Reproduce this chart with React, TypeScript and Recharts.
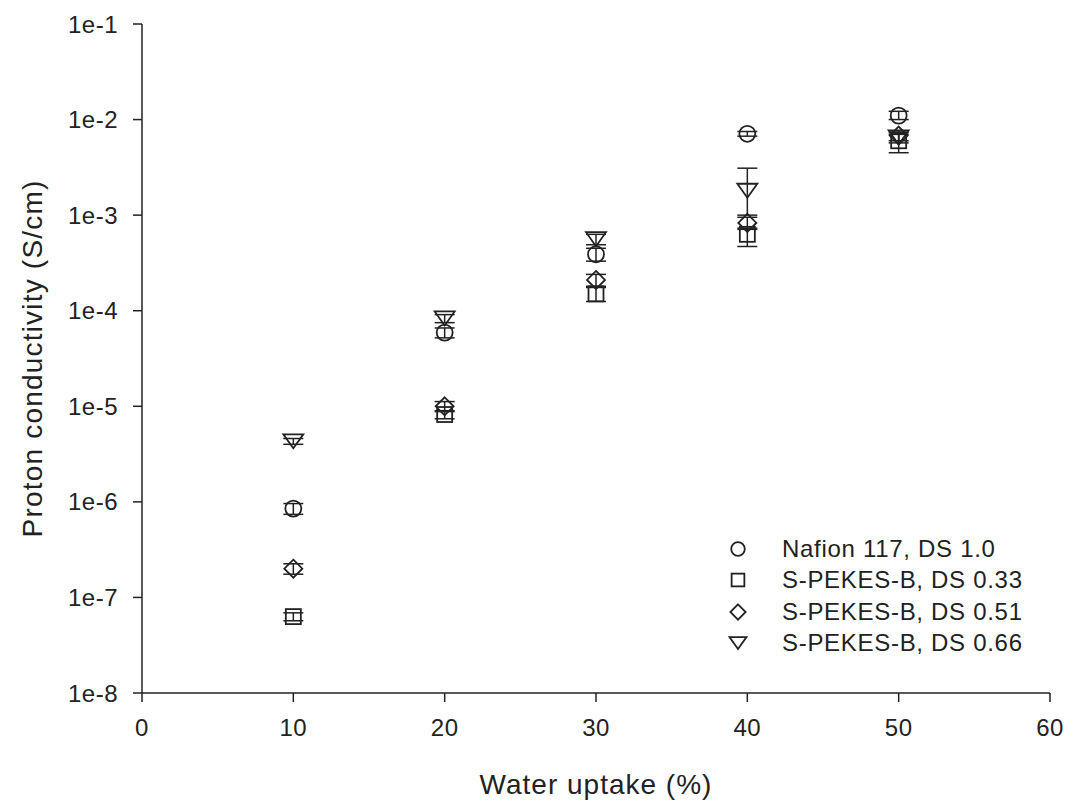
import React from 'react';
import { ScatterChart, Scatter, XAxis, YAxis, ErrorBar, Legend, Label } from 'recharts';

const waterUptake = [10, 20, 30, 40, 50];

const nafion = [8.5e-7, 5.9e-5, 3.9e-4, 7.1e-3, 1.1e-2];
const nafionErr = [[1.1e-7, 1.1e-7], [0.7e-5, 0.7e-5], [0.6e-4, 0.6e-4], [0.4e-3, 0.4e-3], [1.0e-3, 1.2e-3]];

const ds033 = [6.3e-8, 8.2e-6, 1.5e-4, 6.3e-4, 6.0e-3];
const ds033Err = [[0.6e-8, 0.6e-8], [0.8e-6, 0.8e-6], [0.25e-4, 0.25e-4], [1.6e-4, 1.0e-4], [1.5e-3, 1.0e-3]];

const ds051 = [2.0e-7, 1.0e-5, 2.1e-4, 8.3e-4, 6.8e-3];
const ds051Err = [[0.25e-7, 0.25e-7], [1.2e-6, 1.2e-6], [0.3e-4, 0.3e-4], [1.2e-4, 1.2e-4], [0.8e-3, 0.8e-3]];

const ds066 = [4.3e-6, 8.3e-5, 5.6e-4, 1.8e-3, 6.5e-3];
const ds066Err = [[0.3e-6, 0.3e-6], [0.8e-5, 0.8e-5], [0.7e-4, 0.7e-4], [0.8e-3, 1.3e-3], [0.8e-3, 0.8e-3]];

const xTicks = [0, 10, 20, 30, 40, 50, 60];
const yTicks = [1e-8, 1e-7, 1e-6, 1e-5, 1e-4, 1e-3, 1e-2, 1e-1];
const yTickLabels = ['1e-8', '1e-7', '1e-6', '1e-5', '1e-4', '1e-3', '1e-2', '1e-1'];

const INK = '#222';
const FONT = '"Liberation Sans", Arial, sans-serif';

const series = [
  { name: 'Nafion 117, DS 1.0', kind: 'circle', values: nafion, errors: nafionErr },
  { name: 'S-PEKES-B, DS 0.33', kind: 'square', values: ds033, errors: ds033Err },
  { name: 'S-PEKES-B, DS 0.51', kind: 'diamond', values: ds051, errors: ds051Err },
  { name: 'S-PEKES-B, DS 0.66', kind: 'triangle', values: ds066, errors: ds066Err },
];

function Marker({ kind, cx, cy, s = 1 }: { kind: string; cx: number; cy: number; s?: number }) {
  const common = { fill: 'none', stroke: INK, strokeWidth: 1.8 };
  if (kind === 'circle') return <circle cx={cx} cy={cy} r={8 * s} {...common} />;
  if (kind === 'square') return <rect x={cx - 7.5 * s} y={cy - 7.5 * s} width={15 * s} height={15 * s} {...common} />;
  if (kind === 'diamond') {
    const d = 9 * s;
    return <polygon points={`${cx},${cy - d} ${cx + d},${cy} ${cx},${cy + d} ${cx - d},${cy}`} {...common} />;
  }
  const w = 10 * s;
  const h = 7 * s;
  return <polygon points={`${cx - w},${cy - h} ${cx + w},${cy - h} ${cx},${cy + h}`} {...common} />;
}

function LegendBox(props: any) {
  const items = props.payload || [];
  return (
    <div style={{ fontFamily: FONT, fontSize: 24, letterSpacing: 0.7, color: INK }}>
      {items.map((it: any) => {
        const s = series.find((q) => q.name === it.value);
        return (
          <div key={it.value} style={{ display: 'flex', alignItems: 'center', height: 31.5 }}>
            <svg width={30} height={30} style={{ display: 'block' }}>
              <Marker kind={s ? s.kind : 'circle'} cx={15} cy={15} s={0.85} />
            </svg>
            <span style={{ marginLeft: 29, whiteSpace: 'nowrap' }}>{it.value}</span>
          </div>
        );
      })}
    </div>
  );
}

const tickStyle = { fontSize: 24, fill: INK, fontFamily: FONT, letterSpacing: 0.5 };

export default function App() {
  return (
    <div style={{ position: 'absolute', left: 0, top: 0, width: 1073, height: 802, background: '#fff' }}>
      <ScatterChart width={1073} height={802} margin={{ top: 24, right: 23, bottom: 0, left: 0 }}>
        <XAxis
          type="number"
          dataKey="x"
          domain={[0, 60]}
          ticks={xTicks}
          height={109}
          tickSize={9}
          tickMargin={17}
          axisLine={{ stroke: INK, strokeWidth: 1.5 }}
          tickLine={{ stroke: INK, strokeWidth: 1.5 }}
          tick={tickStyle}
        >
          <Label
            content={(p: any) => {
              const vb = p.viewBox;
              return (
                <text
                  x={vb.x + vb.width / 2}
                  y={vb.y + 101}
                  textAnchor="middle"
                  fontSize={28}
                  letterSpacing={1}
                  fill={INK}
                  fontFamily={FONT}
                >
                  Water uptake (%)
                </text>
              );
            }}
          />
        </XAxis>
        <YAxis
          type="number"
          dataKey="y"
          scale="log"
          domain={[1e-8, 1e-1]}
          ticks={yTicks}
          allowDataOverflow
          width={142}
          tickSize={9}
          tickMargin={15}
          tickFormatter={(v: number) => yTickLabels[yTicks.findIndex((t) => Math.abs(t - v) / t < 1e-6)] ?? ''}
          axisLine={{ stroke: INK, strokeWidth: 1.5 }}
          tickLine={{ stroke: INK, strokeWidth: 1.5 }}
          tick={tickStyle}
        >
          <Label
            content={(p: any) => {
              const vb = p.viewBox;
              const cy = vb.y + vb.height / 2;
              return (
                <text
                  transform={`translate(32, ${cy}) rotate(-90)`}
                  textAnchor="middle"
                  dominantBaseline="central"
                  fontSize={28}
                  letterSpacing={1.2}
                  fill={INK}
                  fontFamily={FONT}
                >
                  Proton conductivity (S/cm)
                </text>
              );
            }}
          />
        </YAxis>
        <Legend
          layout="horizontal"
          verticalAlign="middle"
          align="center"
          content={<LegendBox />}
          wrapperStyle={{ left: 723, top: 533, width: 340, height: 130 }}
        />
        {series.map((s) => (
          <Scatter
            key={s.name}
            name={s.name}
            data={waterUptake.map((x, i) => ({ x, y: s.values[i], err: s.errors[i] }))}
            isAnimationActive={false}
            shape={(p: any) => <Marker kind={s.kind} cx={p.cx} cy={p.cy} />}
          >
            <ErrorBar dataKey="err" direction="y" width={10} stroke={INK} strokeWidth={1.5} isAnimationActive={false} />
          </Scatter>
        ))}
      </ScatterChart>
    </div>
  );
}
